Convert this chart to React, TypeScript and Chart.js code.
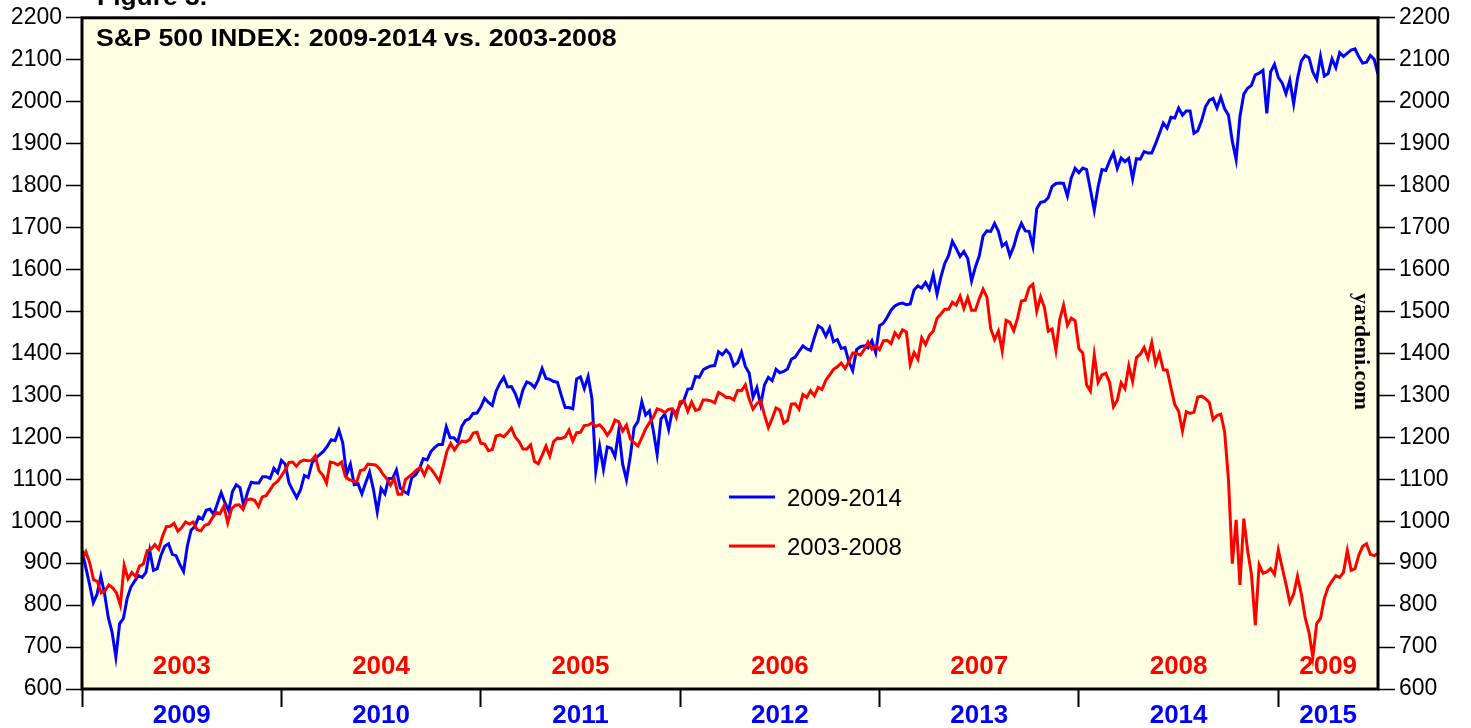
import React, { useEffect, useRef } from "react";
import { Chart, registerables } from "chart.js";

Chart.register(...registerables);

// ---- S&P 500 weekly closes (approx.), 2009 - mid 2015 (blue) ----
const blue2009 = [931, 890, 850, 806, 826, 869, 827, 770, 735, 676, 756, 768, 816, 843, 857, 870, 866, 878, 930, 883, 887, 919, 940, 946, 921, 918, 897, 880, 941, 979, 987, 1010, 1005, 1026, 1029, 1016, 1042, 1068, 1044, 1025, 1071, 1087, 1080, 1036, 1069, 1093, 1091, 1091, 1106, 1106, 1102, 1126, 1115];
const blue2010 = [1145, 1136, 1091, 1073, 1056, 1075, 1109, 1104, 1139, 1150, 1159, 1167, 1179, 1194, 1192, 1217, 1187, 1111, 1136, 1087, 1089, 1065, 1092, 1117, 1076, 1022, 1078, 1065, 1102, 1102, 1122, 1079, 1071, 1065, 1104, 1110, 1125, 1149, 1146, 1166, 1176, 1183, 1183, 1225, 1199, 1199, 1189, 1225, 1240, 1244, 1257, 1258];
const blue2011 = [1272, 1293, 1283, 1276, 1310, 1329, 1343, 1320, 1321, 1304, 1279, 1313, 1332, 1328, 1319, 1337, 1364, 1340, 1338, 1333, 1331, 1300, 1271, 1271, 1268, 1339, 1344, 1316, 1345, 1292, 1120, 1179, 1124, 1177, 1174, 1154, 1216, 1136, 1099, 1155, 1224, 1238, 1285, 1253, 1263, 1216, 1159, 1244, 1255, 1219, 1265, 1258];
const blue2012 = [1278, 1289, 1315, 1316, 1345, 1343, 1361, 1366, 1370, 1371, 1404, 1397, 1408, 1398, 1370, 1378, 1403, 1369, 1353, 1295, 1318, 1278, 1325, 1343, 1335, 1362, 1354, 1357, 1363, 1386, 1391, 1405, 1418, 1411, 1407, 1438, 1466, 1460, 1441, 1461, 1428, 1433, 1412, 1414, 1380, 1359, 1409, 1416, 1418, 1413, 1430, 1402];
const blue2013 = [1466, 1472, 1486, 1503, 1513, 1518, 1520, 1516, 1518, 1551, 1561, 1556, 1569, 1553, 1588, 1541, 1582, 1614, 1633, 1667, 1650, 1631, 1643, 1626, 1573, 1606, 1632, 1680, 1692, 1691, 1710, 1691, 1656, 1664, 1633, 1655, 1688, 1710, 1692, 1691, 1655, 1745, 1760, 1762, 1771, 1798, 1805, 1806, 1805, 1775, 1818, 1841];
const blue2014 = [1831, 1842, 1838, 1790, 1741, 1797, 1838, 1836, 1859, 1878, 1841, 1866, 1857, 1865, 1816, 1864, 1863, 1881, 1878, 1878, 1900, 1924, 1949, 1937, 1963, 1961, 1985, 1968, 1978, 1978, 1925, 1931, 1955, 1988, 2003, 2008, 1985, 2011, 1983, 1968, 1906, 1862, 1965, 2018, 2032, 2039, 2064, 2068, 2075, 1972, 2071, 2089];
const blue2015 = [2058, 2045, 2019, 2051, 1995, 2055, 2097, 2110, 2105, 2071, 2053, 2108, 2061, 2067, 2102, 2081, 2117, 2108, 2116, 2123, 2126, 2107, 2092, 2094, 2110, 2101, 2065];

// ---- S&P 500 weekly closes (approx.), 2003 - mid 2009 (red, shifted +6 years) ----
const red2003 = [909, 927, 901, 861, 856, 829, 834, 848, 841, 829, 800, 895, 863, 878, 868, 893, 898, 930, 933, 944, 933, 964, 987, 988, 995, 976, 985, 998, 993, 998, 980, 977, 990, 993, 1008, 1021, 1018, 1036, 996, 1029, 1038, 1039, 1028, 1051, 1053, 1050, 1035, 1058, 1061, 1074, 1088, 1095];
const red2004 = [1108, 1122, 1140, 1141, 1131, 1142, 1146, 1144, 1145, 1156, 1120, 1110, 1091, 1141, 1139, 1134, 1141, 1107, 1099, 1096, 1093, 1121, 1123, 1136, 1135, 1134, 1126, 1112, 1101, 1086, 1102, 1064, 1064, 1099, 1107, 1114, 1123, 1128, 1110, 1131, 1122, 1109, 1095, 1130, 1167, 1185, 1170, 1183, 1191, 1189, 1194, 1210, 1212];
const red2005 = [1186, 1184, 1168, 1171, 1203, 1206, 1201, 1211, 1222, 1200, 1190, 1172, 1172, 1182, 1143, 1137, 1157, 1179, 1155, 1190, 1198, 1197, 1201, 1217, 1191, 1211, 1212, 1228, 1229, 1234, 1226, 1230, 1220, 1205, 1218, 1241, 1237, 1215, 1229, 1196, 1187, 1179, 1199, 1220, 1235, 1248, 1268, 1265, 1259, 1267, 1268, 1248];
const red2006 = [1285, 1287, 1262, 1284, 1264, 1267, 1289, 1289, 1287, 1282, 1307, 1302, 1295, 1295, 1289, 1312, 1311, 1325, 1291, 1267, 1280, 1288, 1253, 1223, 1245, 1270, 1265, 1234, 1240, 1279, 1280, 1267, 1302, 1295, 1311, 1299, 1319, 1314, 1336, 1349, 1362, 1368, 1377, 1364, 1380, 1401, 1400, 1396, 1409, 1427, 1410, 1418];
const red2007 = [1409, 1430, 1431, 1423, 1449, 1438, 1456, 1451, 1374, 1402, 1386, 1437, 1421, 1443, 1453, 1484, 1494, 1505, 1505, 1522, 1515, 1536, 1507, 1533, 1503, 1503, 1530, 1553, 1534, 1459, 1433, 1453, 1406, 1479, 1474, 1454, 1484, 1525, 1527, 1557, 1565, 1501, 1535, 1510, 1453, 1458, 1407, 1481, 1515, 1467, 1484, 1478];
const red2008 = [1411, 1401, 1325, 1310, 1396, 1331, 1349, 1353, 1331, 1273, 1288, 1330, 1316, 1370, 1333, 1390, 1398, 1414, 1389, 1426, 1375, 1400, 1361, 1360, 1318, 1278, 1262, 1215, 1261, 1257, 1260, 1296, 1298, 1292, 1283, 1242, 1252, 1255, 1213, 1099, 899, 1003, 848, 1006, 930, 873, 752, 896, 876, 879, 887, 873];
const red2009 = [931, 890, 850, 806, 826, 869, 827, 770, 735, 676, 756, 768, 816, 843, 857, 870, 866, 878, 930, 883, 887, 919, 940, 946, 921, 918, 923];

const blueSeries = [blue2009, blue2010, blue2011, blue2012, blue2013, blue2014, blue2015];
const redSeries = [red2003, red2004, red2005, red2006, red2007, red2008, red2009];

const blueYears = [2009, 2010, 2011, 2012, 2013, 2014, 2015];
const redYears = [2003, 2004, 2005, 2006, 2007, 2008, 2009];
const YEAR_SHIFT = 6;
const X_MIN = 2009;
const X_MAX = 2015.5;
const Y_MIN = 600;
const Y_MAX = 2200;
const Y_STEP = 100;

const bottomLabels = ["2009", "2010", "2011", "2012", "2013", "2014", "2015"];
const innerLabels = ["2003", "2004", "2005", "2006", "2007", "2008", "2009"];
const legendLabels = ["2009-2014", "2003-2008"];
const titleText = "S&P 500 INDEX: 2009-2014 vs. 2003-2008";
const figureText = "Figure 3.";
const sourceText = "yardeni.com";

const BLUE = "#0000FF";
const RED = "#FF0000";
const BG = "#FFFFE3";
const SANS = "'Liberation Sans', Arial, Helvetica, sans-serif";
const SERIF = "'Liberation Serif', 'Times New Roman', serif";

// Weekly points spread over each calendar year; last (partial) year uses 52 weeks/yr
function buildPoints(series: number[][], years: number[], shift: number) {
  const pts: { x: number; y: number }[] = [];
  series.forEach((arr, k) => {
    const last = k === series.length - 1;
    const n = last ? 52 : arr.length;
    arr.forEach((v, i) => {
      pts.push({ x: years[k] + shift + i / n, y: v });
    });
  });
  return pts;
}

function stretchedText(ctx: CanvasRenderingContext2D, text: string, x: number, y: number, sx: number) {
  ctx.save();
  ctx.translate(x, y);
  ctx.scale(sx, 1);
  ctx.fillText(text, 0, 0);
  ctx.restore();
}

const decorPlugin = {
  id: "decor",
  beforeDraw(chart: any) {
    const { ctx, chartArea } = chart;
    ctx.save();
    ctx.fillStyle = BG;
    ctx.fillRect(chartArea.left, chartArea.top, chartArea.right - chartArea.left, chartArea.bottom - chartArea.top);
    ctx.restore();
  },
  afterDraw(chart: any) {
    const { ctx, chartArea, scales } = chart;
    const xs = scales.x;
    ctx.save();

    // frame
    ctx.strokeStyle = "#000";
    ctx.lineWidth = 3;
    ctx.strokeRect(chartArea.left, chartArea.top, chartArea.right - chartArea.left, chartArea.bottom - chartArea.top);

    // figure caption (cut at the top)
    ctx.fillStyle = "#000";
    ctx.font = `bold 24px ${SANS}`;
    ctx.textAlign = "left";
    ctx.textBaseline = "alphabetic";
    stretchedText(ctx, figureText, 97, 5, 1.1);

    // title
    stretchedText(ctx, titleText, 96, 46, 1.115);

    // year labels
    ctx.textAlign = "center";
    ctx.font = `bold 26px ${SANS}`;
    for (let i = 0; i < blueYears.length; i++) {
      const a = blueYears[i];
      const b = Math.min(a + 1, X_MAX);
      const cx = (xs.getPixelForValue(a) + xs.getPixelForValue(b)) / 2;
      ctx.fillStyle = RED;
      ctx.fillText(innerLabels[i], cx, chartArea.bottom - 15);
      ctx.fillStyle = BLUE;
      ctx.fillText(bottomLabels[i], cx, chartArea.bottom + 34);
    }

    // legend
    const legColors = [BLUE, RED];
    const legY = [497, 546];
    ctx.textAlign = "left";
    ctx.font = `24px ${SANS}`;
    for (let i = 0; i < legendLabels.length; i++) {
      ctx.strokeStyle = legColors[i];
      ctx.lineWidth = 3;
      ctx.beginPath();
      ctx.moveTo(729, legY[i]);
      ctx.lineTo(775, legY[i]);
      ctx.stroke();
      ctx.fillStyle = "#000";
      ctx.fillText(legendLabels[i], 787, legY[i] + 9);
    }

    // source, rotated
    ctx.translate(1355, 293);
    ctx.rotate(Math.PI / 2);
    ctx.font = `bold 22px ${SERIF}`;
    ctx.fillStyle = "#000";
    ctx.fillText(sourceText, 0, 0);
    ctx.restore();
  },
};

export default function App() {
  const ref = useRef<HTMLCanvasElement | null>(null);

  useEffect(() => {
    if (!ref.current) return;
    const yAxis = (side: "left" | "right", width: number, tl: number) => ({
      type: "linear" as const,
      position: side,
      min: Y_MIN,
      max: Y_MAX,
      ticks: {
        stepSize: Y_STEP,
        color: "#000",
        padding: 4,
        font: { size: 23, family: SANS },
        callback: (v: any) => String(v),
      },
      grid: {
        drawOnChartArea: false,
        drawTicks: true,
        tickLength: tl,
        tickColor: "#000",
        tickWidth: 1.5,
      },
      border: { display: false },
      afterFit: (s: any) => {
        s.width = width;
      },
    });

    const chart = new Chart(ref.current, {
      type: "line",
      data: {
        datasets: [
          {
            label: legendLabels[1],
            data: buildPoints(redSeries, redYears, YEAR_SHIFT),
            borderColor: RED,
            borderWidth: 3,
            pointRadius: 0,
            tension: 0,
            order: 0,
          },
          {
            label: legendLabels[0],
            data: buildPoints(blueSeries, blueYears, 0),
            borderColor: BLUE,
            borderWidth: 3,
            pointRadius: 0,
            tension: 0,
            order: 1,
          },
        ],
      },
      options: {
        responsive: false,
        animation: false,
        events: [],
        layout: { padding: { top: 17, left: 0, right: 0, bottom: 0 } },
        plugins: {
          legend: { display: false },
          tooltip: { enabled: false },
          title: { display: false },
        },
        scales: {
          x: {
            type: "linear",
            min: X_MIN,
            max: X_MAX,
            afterBuildTicks: (s: any) => {
              s.ticks = blueYears.map((v) => ({ value: v }));
            },
            ticks: { display: false },
            grid: {
              drawOnChartArea: false,
              drawTicks: true,
              tickLength: 18,
              tickColor: "#000",
              tickWidth: 2,
            },
            border: { display: false },
            afterFit: (s: any) => {
              s.height = 39;
            },
          },
          y: yAxis("left", 82, 16),
          y2: yAxis("right", 93, 17),
        },
      } as any,
      plugins: [decorPlugin],
    });
    return () => chart.destroy();
  }, []);

  return (
    <div style={{ position: "absolute", left: 0, top: 0, width: 1471, height: 728, background: "#fff" }}>
      <canvas ref={ref} width={1471} height={728} style={{ width: 1471, height: 728, display: "block" }} />
    </div>
  );
}
